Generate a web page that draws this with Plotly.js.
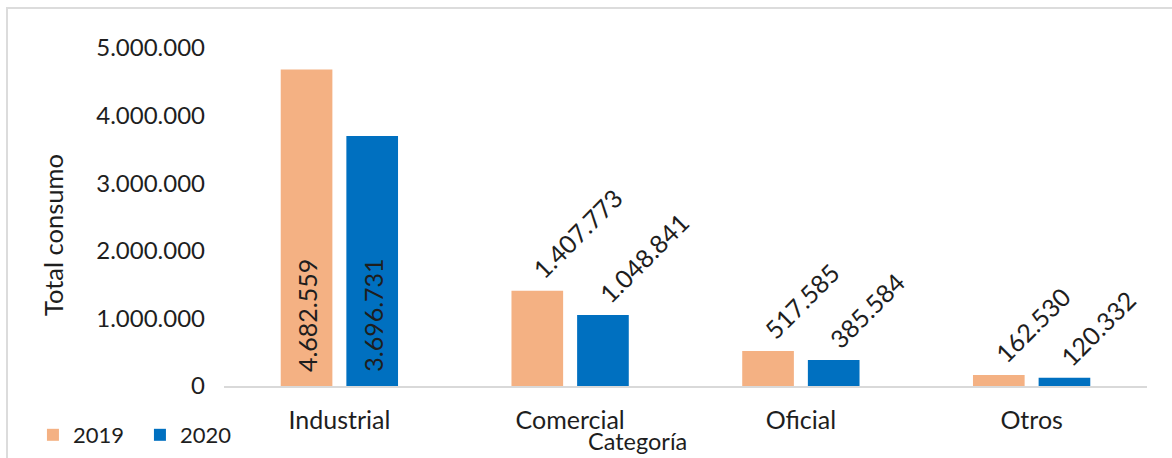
<!DOCTYPE html>
<html>
<head>
<meta charset="utf-8">
<script src="https://cdn.plot.ly/plotly-3.0.1.min.js"></script>
<style>
  html, body { margin: 0; padding: 0; background: #fff; }
  #wrap { position: relative; width: 1172px; height: 458px; overflow: hidden; }
  #chart { position: absolute; left: 0; top: 0; width: 1172px; height: 458px; }
  #frame { position: absolute; left: 6px; top: 7px; width: 1200px; height: 500px;
           border-top: 2px solid #dcdcdc; border-left: 2px solid #dcdcdc; pointer-events: none; }
</style>
</head>
<body>
<div id="wrap">
  <div id="chart"></div>
  <div id="frame"></div>
</div>
<script>
// ---- data ----
const categories = ["Industrial", "Comercial", "Oficial", "Otros"];
const seriesNames = ["2019", "2020"];
const values2019 = [4682559, 1407773, 517585, 162530];
const values2020 = [3696731, 1048841, 385584, 120332];
const yTickVals = [0, 1000000, 2000000, 3000000, 4000000, 5000000];
const insideLabelCategories = ["Industrial"]; // labels drawn inside the bar (vertical)

// ---- style ----
const FONT = "Lato, 'Open Sans', sans-serif";
const TXT = "#1e1e1e";
const colors = ["#F4B183", "#0070C0"];
const slotShift = 32.8; // px: half of a bar slot

function fmt(v) {
  return String(v).replace(/\B(?=(\d{3})+(?!\d))/g, ".");
}

const traces = [values2019, values2020].map((vals, k) => ({
  type: "bar",
  name: seriesNames[k],
  x: categories,
  y: vals,
  marker: { color: colors[k], line: { width: 0 } },
  hoverinfo: "skip"
}));

const annotations = [];
[values2019, values2020].forEach((vals, k) => {
  const sh = k === 0 ? -slotShift : slotShift;
  categories.forEach((c, i) => {
    if (insideLabelCategories.includes(c)) {
      annotations.push({
        x: c, y: 0, xref: "x", yref: "y",
        text: fmt(vals[i]), showarrow: false, textangle: -90,
        xanchor: "center", yanchor: "bottom", xshift: sh, yshift: 12,
        font: { family: FONT, size: 25, color: TXT }
      });
    } else {
      annotations.push({
        x: c, y: vals[i], xref: "x", yref: "y",
        text: fmt(vals[i]), showarrow: false, textangle: -45,
        xanchor: "left", yanchor: "bottom", xshift: sh - 13, yshift: 4,
        font: { family: FONT, size: 25, color: TXT }
      });
    }
  });
});

annotations.push({
  text: "Total consumo", xref: "paper", yref: "paper", x: -0.1853, y: 0.4467,
  xanchor: "center", yanchor: "middle", textangle: -90, showarrow: false,
  font: { family: FONT, size: 25.5, color: TXT }
});
annotations.push({
  text: "Categoría", xref: "paper", yref: "paper", x: 0.4475, y: 0,
  xanchor: "center", yanchor: "top", yshift: -39, showarrow: false,
  font: { family: FONT, size: 23.5, color: TXT }
});

const layout = {
  width: 1172, height: 458,
  margin: { l: 224, r: 25, t: 48, b: 72, autoexpand: false },
  paper_bgcolor: "#ffffff", plot_bgcolor: "#ffffff",
  separators: ",.",
  font: { family: FONT, size: 24, color: TXT },
  barmode: "group", bargap: 0.431, bargroupgap: 0.213,
  showlegend: true,
  legend: {
    orientation: "h", x: -0.207, xanchor: "left", y: -0.145, yanchor: "middle",
    font: { family: FONT, size: 22, color: TXT },
    entrywidth: 62, entrywidthmode: "pixels", bgcolor: "rgba(0,0,0,0)"
  },
  xaxis: {
    type: "category", showline: true, linecolor: "#d9d9d9", linewidth: 2,
    showgrid: false, zeroline: false, ticks: "", ticklabelstandoff: 11,
    tickfont: { family: FONT, size: 25, color: TXT }, fixedrange: true
  },
  yaxis: {
    range: [0, 5000000], tickvals: yTickVals, tickformat: ",d",
    showline: false, showgrid: false, zeroline: false, ticks: "",
    ticklabelstandoff: 18,
    tickfont: { family: FONT, size: 24, color: TXT }, fixedrange: true
  },
  annotations: annotations
};

Plotly.newPlot("chart", traces, layout, { staticPlot: true, displayModeBar: false });
</script>
</body>
</html>
